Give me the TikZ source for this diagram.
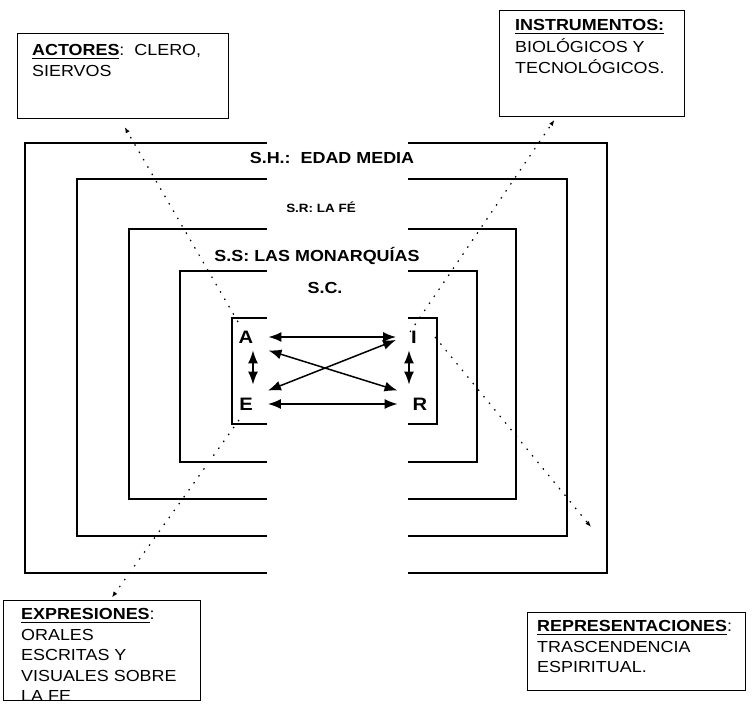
\documentclass[tikz,border=0pt]{standalone}
\usepackage{fontspec}
\setmainfont{Liberation Sans}[FakeStretch=1.12]
\newcommand{\subr}[1]{\leavevmode\setbox0\hbox{#1}\rlap{\rule[-3.2pt]{\wd0}{1.4pt}}\box0}
\usetikzlibrary{arrows.meta}

\begin{document}
\begin{tikzpicture}[x=1pt,y=-1pt,
  marco/.style={line width=1.8pt},
  caja/.style={draw, line width=1.3pt, anchor=north west, inner sep=0pt},
  texto/.style={anchor=north west, inner sep=0pt, align=left, font=\fontsize{16}{20.5}\selectfont},
  rotulo/.style={font=\bfseries\fontsize{16}{18}\selectfont},
  letra/.style={font=\bfseries\fontsize{18}{20}\selectfont, inner xsep=15pt, inner ysep=7pt},
  flecha/.style={<->, line width=1.5pt, >={Latex[length=13pt,width=10pt]}},
  punteada/.style={-{Latex[length=6pt,width=4.5pt]}, line width=1.2pt, dash pattern=on 1.5pt off 7pt}]
\useasboundingbox (0,0) rectangle (752,708);
\foreach \l/\r/\t/\b in {25/607/143/573, 77/567/179/536, 129/516/229/499, 180/477/271/462, 232/437/318/424}{
  \draw[marco] (267,\t) -- (\l,\t) -- (\l,\b) -- (267,\b);
  \draw[marco] (408,\t) -- (\r,\t) -- (\r,\b) -- (408,\b);
}
\node[rotulo] (sh) at (332,158) {S.H.:\ \ EDAD MEDIA};
\node[rotulo, font=\bfseries\fontsize{12}{14}\selectfont] (sr) at (321,207) {S.R: LA FÉ};
\node[rotulo] (ss) at (317,256) {S.S: LAS MONARQUÍAS};
\node[rotulo] (sc) at (325,288) {S.C.};
\node[letra] (A) at (246,337) {A};
\node[letra] (E) at (246,404) {E};
\node[letra] (I) at (414,337) {I};
\node[letra] (R) at (420,404) {R};
\draw[flecha] (A.east) -- (I.west);
\draw[flecha] (E.east) -- (R.west);
\draw[flecha] (A.south east) -- (R.north west);
\draw[flecha] (E.north east) -- ([yshift=-3pt]I.west);
\draw[flecha, shorten >=6pt] ([xshift=7pt]A.south) -- ([xshift=7pt]E.north);
\draw[flecha, shorten >=6pt] ([xshift=-5pt]I.south) -- ([xshift=-11pt]R.north);
\node[caja, minimum width=211pt, minimum height=85pt] (actores) at (17,33) {};
\node[texto] (actorestxt) at (32,44.5) {\subr{\textbf{ACTORES}}:\ \ CLERO,\\SIERVOS};
\node[caja, minimum width=185pt, minimum height=106pt] (instr) at (499,10) {};
\node[texto] (instrtxt) at (515,19.5) {\subr{\textbf{INSTRUMENTOS:}}\\[1.5pt]BIOLÓGICOS Y\\TECNOLÓGICOS.};
\node[caja, minimum width=197pt, minimum height=100pt] (expr) at (3,600) {};
\begin{scope}
  \clip (expr.north west) rectangle (expr.south east);
  \node[texto] (exprtxt) at (21,608.5) {\subr{\textbf{EXPRESIONES}}:\\ORALES\\ESCRITAS Y\\VISUALES SOBRE\\LA FE};
\end{scope}
\node[caja, minimum width=218pt, minimum height=78pt] (repr) at (527,612) {};
\node[texto] (reprtxt) at (537,620.5) {\subr{\textbf{REPRESENTACIONES}}:\\TRASCENDENCIA\\ESPIRITUAL.};
\coordinate (pA) at (238,322);
\coordinate (pI) at (410,332);
\coordinate (pD) at (435,337);
\coordinate (pE) at (239,420);
\coordinate (fin) at (591,527);
\draw[punteada, shorten >=9pt] (pA) -- ([xshift=-3pt]actores.south);
\draw[punteada, shorten >=3pt] (pI) -- ([xshift=-36pt]instr.south);
\draw[punteada] (pD) -- (fin);
\draw[punteada, shorten >=3pt] (pE) -- ([xshift=8pt]expr.north);
\end{tikzpicture}
\end{document}
